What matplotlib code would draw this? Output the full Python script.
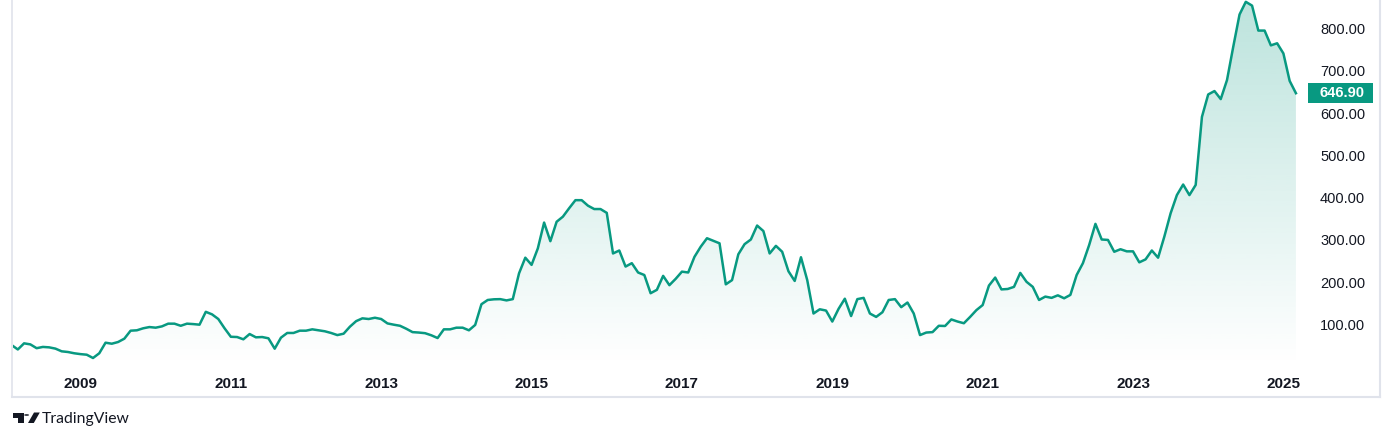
import numpy as np
import pandas as pd
import matplotlib
matplotlib.use("Agg")
import matplotlib.pyplot as plt
from matplotlib.patches import Rectangle, Polygon, Circle
from matplotlib.lines import Line2D
import matplotlib.transforms as mtransforms

# ---------------- data ----------------
start_month = "2008-02"
values = [
    51.5, 41, 55.5, 53, 44, 47, 46, 43, 36.6, 35, 32,            # 2008-02 .. 2008-12
    30, 28.6, 20.8, 32, 57, 54.6, 58.6, 66.5, 85.4, 86.3, 91, 94,  # 2009
    92.5, 95.6, 102, 102, 97, 102, 101, 99.6, 130, 124, 113, 91,   # 2010
    71, 70.4, 65, 77.5, 69.7, 70.4, 67.4, 42.8, 68.9, 80, 80, 85.4,  # 2011
    85.4, 88.6, 86.3, 84, 80, 75, 78.3, 94.8, 108, 114.6, 113, 116,  # 2012
    113, 102.6, 99.6, 97, 90, 82, 81, 79.5, 74.5, 68, 88.6, 88.6,    # 2013
    92.5, 92.5, 86.3, 99, 148, 158, 159.6, 160, 157, 160, 221, 258,  # 2014
    241, 280, 341, 297, 343, 355, 375, 394, 394, 381, 373, 373,      # 2015
    364, 268, 275, 237, 245, 223, 217, 174, 182, 215, 193, 208,      # 2016
    225, 223, 260, 284, 304, 298, 292, 195, 205, 266, 290, 301,      # 2017
    334, 321, 268, 286, 272, 226, 203, 259, 205, 126, 136, 133,      # 2018
    107, 137, 161, 120, 160, 163, 126, 118, 129, 158, 160, 141,      # 2019
    152, 126, 75, 81, 82, 97, 96.5, 112, 107, 103, 118, 134,         # 2020
    146, 192, 211, 183, 184, 189, 222, 201, 189, 158, 166, 163,      # 2021
    169, 162, 170, 217, 245, 288, 338, 301, 300, 272, 278, 273,      # 2022
    273, 247, 254, 275, 258, 308, 363, 406, 431, 406, 430, 591,      # 2023
    644, 652, 633, 678, 757, 833, 863, 854, 795, 795, 760, 765,      # 2024
    741, 676, 646.9,                                                 # 2025
]
year_labels = ["2009", "2011", "2013", "2015", "2017", "2019", "2021", "2023", "2025"]
price_ticks = [100, 200, 300, 400, 500, 600, 700, 800]
last_value = values[-1]

# ---------------- style ----------------
W, H = 1393, 442
LINE = "#089981"
TEXT = "#131722"
BORDER = "#e0e3eb"
plt.rcParams["font.family"] = ["Liberation Sans", "DejaVu Sans"]

fig = plt.figure(figsize=(W / 100, H / 100), dpi=100)
fig.patch.set_facecolor("white")

def fx(px):
    return px / W

def fy(py):
    return 1 - py / H

# pane: x 13..1302 px, y 0..366 px
ax = fig.add_axes([fx(13), fy(366), fx(1302) - fx(13), fy(0) - fy(366)])
ax.set_facecolor("white")

dates = pd.period_range(start_month, periods=len(values), freq="M")
x = np.arange(len(values))
y = np.array(values, dtype=float)

x_lo, x_hi = 0.23, 205.97
y_lo, y_hi = 1.9, 867.3
ax.set_xlim(x_lo, x_hi)
ax.set_ylim(y_lo, y_hi)

# gradient fill (transparent at bottom, tinted at top)
grad = np.zeros((256, 1, 4))
rgb = matplotlib.colors.to_rgb(LINE)
grad[:, 0, :3] = rgb
grad[:, 0, 3] = np.linspace(0.0, 0.27, 256)
im = ax.imshow(grad, extent=[x_lo, x_hi, y_lo, y_hi], aspect="auto",
               origin="lower", zorder=1, interpolation="bilinear")
verts = np.vstack([[x[0], y_lo - 10], np.column_stack([x, y]), [x[-1], y_lo - 10]])
clip = Polygon(verts, closed=True, transform=ax.transData, facecolor="none", edgecolor="none")
ax.add_patch(clip)
im.set_clip_path(clip)

ax.plot(x, y, color=LINE, lw=1.8, solid_joinstyle="round", zorder=3)

for s in ax.spines.values():
    s.set_visible(False)

# x ticks (January of the labelled years)
tick_pos = [int(np.where(dates == pd.Period(f"{yl}-01", freq="M"))[0][0]) for yl in year_labels]
ax.set_xticks(tick_pos)
ax.set_xticklabels(year_labels, fontsize=11, fontweight="bold", color=TEXT)
ax.tick_params(axis="x", length=0, pad=8)

# y ticks on right
ax.yaxis.tick_right()
ax.set_yticks(price_ticks)
ax.set_yticklabels([f"{v:.2f}" for v in price_ticks], fontsize=10.5, color=TEXT)
ax.tick_params(axis="y", length=0, pad=13)
for lab in ax.get_yticklabels():
    lab.set_horizontalalignment("left")

# last price badge
blend = mtransforms.blended_transform_factory(ax.transAxes, ax.transData)
ax_w = 1302 - 13
px_per_val = 366 / (y_hi - y_lo)
box_h = 20 / px_per_val
ax.add_patch(Rectangle(((1308 - 13) / ax_w, last_value - box_h / 2), 65 / ax_w, box_h,
                       transform=blend, facecolor=LINE, edgecolor="none", clip_on=False, zorder=5))
ax.text((1342 - 13) / ax_w, last_value, f"{last_value:.2f}", transform=blend, ha="center",
        va="center", color="white", fontsize=10.5, fontweight="bold", zorder=6, clip_on=False)

# frame
fig.add_artist(Line2D([fx(12), fx(12)], [fy(0), fy(397)], color=BORDER, lw=1.2))
fig.add_artist(Line2D([fx(12), fx(1380)], [fy(397), fy(397)], color=BORDER, lw=1.5))
fig.add_artist(Line2D([fx(1379.5), fx(1379.5)], [fy(0), fy(397)], color=BORDER, lw=1.5))

# TradingView logo
def P(pts):
    return [(fx(a), fy(b)) for a, b in pts]

fig.add_artist(Polygon(P([(12.5, 412.5), (23.5, 412.5), (23.5, 423), (18.3, 423), (18.3, 418), (12.5, 418)]),
                       closed=True, transform=fig.transFigure, facecolor="#131722", edgecolor="none"))
fig.add_artist(Circle((fx(26.6), fy(415.0)), 2.5 / W, transform=fig.transFigure,
                      facecolor="#131722", edgecolor="none"))
fig.add_artist(Polygon(P([(28.0, 423), (33.8, 423), (39.8, 412.5), (34.0, 412.5)]),
                       closed=True, transform=fig.transFigure, facecolor="#131722", edgecolor="none"))
fig.text(fx(41.5), fy(419), "TradingView", fontsize=11.3, color="#131722",
         family=["Lato", "DejaVu Sans"], ha="left", va="center")

fig.savefig("out.png", dpi=100, facecolor="white")
